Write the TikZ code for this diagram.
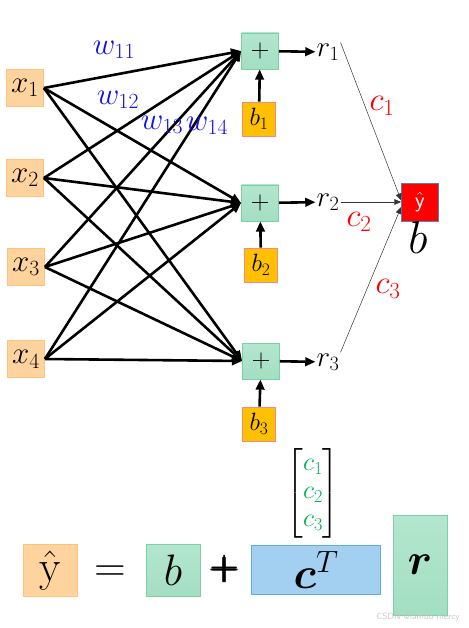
\RequirePackage{fix-cm}
\documentclass[tikz,border=0pt]{standalone}
\usepackage{amsmath}
\usepackage{tikz}
\usetikzlibrary{arrows.meta,positioning}
\definecolor{NNIn}{HTML}{FFD39E}
\definecolor{NNInLine}{HTML}{FFC27A}
\definecolor{NNSum}{HTML}{A3DFC2}
\definecolor{NNSumTop}{HTML}{B3E6CE}
\definecolor{NNSumLine}{HTML}{7DCFA5}
\definecolor{NNBias}{HTML}{FFC000}
\definecolor{NNBiasLine}{HTML}{EE8A8A}
\definecolor{NNOut}{HTML}{FF0000}
\definecolor{NNOutLine}{HTML}{4F81BD}
\definecolor{NNVec}{HTML}{A3CFF0}
\definecolor{NNVecLine}{HTML}{5DADE2}
\definecolor{NNWeight}{HTML}{1010F0}
\definecolor{NNCoef}{HTML}{FF0000}
\definecolor{NNCoefGreen}{HTML}{00B050}
\definecolor{NNMark}{HTML}{C8C8C8}
\tikzset{
  wire/.style={-{Triangle[length=3.6mm,width=3mm]},line width=2.6pt},
  link/.style={-{Triangle[length=2.4mm,width=2mm]},line width=0.5pt,black!80},
  inbox/.style={draw=NNInLine,fill=NNIn,line width=0.8pt,minimum width=37pt,
                minimum height=37pt,inner sep=0pt,font=\fontsize{31}{33}\selectfont},
  sumbox/.style={draw=NNSumLine,top color=NNSumTop,bottom color=NNSum,line width=0.8pt,
                 minimum width=37pt,minimum height=36pt,inner sep=0pt,
                 font=\sffamily\fontsize{26}{28}\selectfont},
  biasbox/.style={draw=NNBiasLine,fill=NNBias,line width=0.8pt,minimum width=33pt,
                  minimum height=34pt,inner sep=0pt,font=\fontsize{25}{27}\selectfont},
  outbox/.style={draw=NNOutLine,fill=NNOut,line width=0.8pt,minimum width=37pt,
                 minimum height=38pt,inner sep=0pt,text=white,font=\fontsize{22}{24}\selectfont},
  rlabel/.style={inner sep=1pt,font=\fontsize{29}{31}\selectfont},
  wlabel/.style={text=NNWeight,inner sep=0pt,font=\fontsize{31}{33}\selectfont},
  clabel/.style={text=NNCoef,inner sep=0pt,font=\fontsize{33}{35}\selectfont},
  eqbox/.style={line width=0.8pt,inner sep=0pt,minimum height=52pt,
                font=\fontsize{44}{46}\selectfont},
}
\begin{document}
\begin{tikzpicture}[x=1pt,y=-1pt]
  \useasboundingbox (0,0) rectangle (468,628);

  % inputs
  \node[inbox] (x1) at (25,88) {$x_1$};
  \node[inbox] (x2) at (25,178) {$x_2$};
  \node[inbox] (x3) at (26,267) {$x_3$};
  \node[inbox] (x4) at (26,359) {$x_4$};

  % sums and biases
  \node[sumbox] (s1) at (260,51) {+};
  \node[sumbox] (s2) at (260,203) {+};
  \node[sumbox] (s3) at (261,361) {+};
  \node[biasbox] (b1) at (259,119) {$b_1$};
  \node[biasbox] (b2) at (261,265) {$b_2$};
  \node[biasbox] (b3) at (259,424) {$b_3$};

  \node[rlabel] (r1) at (328,52) {$r_1$};
  \node[rlabel] (r2) at (328,202) {$r_2$};
  \node[rlabel] (r3) at (328,362) {$r_3$};

  \node[outbox] (yh) at (420,202) {$\hat{\mathsf{y}}$};
  \node[font=\fontsize{46}{48}\selectfont] (bout) at (418,238) {$b$};

  \foreach \i in {1,...,4}
    \foreach \j in {1,2,3}
      \draw[wire] (x\i.east) -- (s\j.west);
  \foreach \j in {1,2,3} {
    \draw[wire] (b\j) -- (s\j);
    \draw[wire] (s\j) -- (r\j);
  }

  \draw[link] (r1.north east) -- (yh.175);
  \draw[link] (r2.east) -- (yh.west);
  \draw[link] (r3.north east) -- (yh.195);

  \node[wlabel] (w11) at (114,50) {$w_{11}$};
  \node[wlabel] (w12) at (118,100) {$w_{12}$};
  \node[wlabel] (w13) at (162,125) {$w_{13}$};
  \node[wlabel] (w14) at (207,126) {$w_{14}$};

  \node[clabel] (c1) at (382,106) {$c_1$};
  \node[clabel] (c2) at (359,222) {$c_2$};
  \node[clabel] (c3) at (388,289) {$c_3$};

  % y = b + c^T r
  \node[eqbox,draw=NNInLine,fill=NNIn,minimum width=54pt] (ey) at (50,570) {$\hat{\mathrm{y}}$};
  \node[font=\fontsize{44}{46}\selectfont] (eq) at (110,574) {$=$};
  \node[eqbox,draw=NNSumLine,top color=NNSumTop,bottom color=NNSum,minimum width=54pt] (eb) at (173,570) {$b$};
  \node[font=\fontsize{34}{36}\selectfont\boldmath] (plus) at (225,569) {$\pmb{+}$};
  \node[eqbox,draw=NNVecLine,fill=NNVec,minimum width=129pt,minimum height=49pt] (ec) at (316,570) {$\boldsymbol{c}^{T}$};
  \node[eqbox,draw=NNSumLine,top color=NNSumTop,bottom color=NNSum,minimum width=54pt,minimum height=100pt] (er) at (420,565) {$\boldsymbol{r}$};
  \node[font=\fontsize{26}{28}\selectfont] (cvec) at (313,493)
    {$\begin{bmatrix}\color{NNCoefGreen}c_1\\ \color{NNCoefGreen}c_2\\ \color{NNCoefGreen}c_3\end{bmatrix}$};

  \node[text=NNMark,font=\sffamily\fontsize{9}{10}\selectfont] (mark) at (418,617) {CSDN @lambo mercy};
\end{tikzpicture}
\end{document}
